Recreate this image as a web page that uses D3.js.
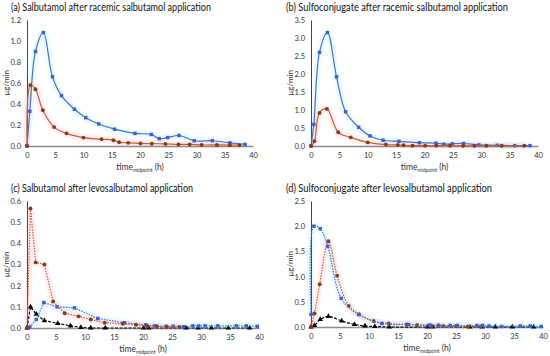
<!DOCTYPE html>
<html>
<head>
<meta charset="utf-8">
<script src="https://cdn.jsdelivr.net/npm/d3@7"></script>
<style>
body { margin: 0; background: #fff; }
text { font-family: Lato, "Open Sans", sans-serif; fill: #333; }
</style>
</head>
<body>
<svg id="chart" width="550" height="356"></svg>
<script>
// (a) salbutamol after racemic application
var a_blue_t = [0, 0.5, 1.5, 2.9, 4.5, 6.1, 8.4, 10.4, 12.7, 15.5, 19.1, 22, 23.4, 24.9, 26.9, 29.6, 32.8, 35.9, 38.6];
var a_blue_v = [0, 0.33, 0.9, 1.08, 0.66, 0.48, 0.35, 0.27, 0.21, 0.16, 0.12, 0.11, 0.07, 0.08, 0.1, 0.05, 0.05, 0.03, 0.015];
var a_red_t = [0, 0.6, 1.5, 2.8, 4.8, 7, 10, 13.2, 15.3, 16.3, 17.9, 20.1, 22.1, 24.5, 26.8, 28.8, 30.9, 33.6, 35.9, 37.6];
var a_red_v = [0, 0.58, 0.54, 0.34, 0.18, 0.12, 0.08, 0.065, 0.055, 0.035, 0.03, 0.025, 0.022, 0.02, 0.015, 0.015, 0.01, 0.01, 0.008, 0.008];

// (b) sulfoconjugate after racemic application
var b_blue_t = [0, 0.5, 1.5, 2.9, 4.5, 6.1, 8.4, 10.4, 12.7, 15.5, 19.1, 22, 23.4, 24.9, 26.9, 29.6, 32.8, 35.9, 38.6];
var b_blue_v = [0, 0.6, 2.6, 3.15, 1.92, 0.95, 0.52, 0.28, 0.16, 0.13, 0.09, 0.08, 0.05, 0.06, 0.07, 0.03, 0.02, 0.01, 0.01];
var b_red_t = [0, 0.6, 1.5, 2.8, 4.8, 7, 10, 13.2, 15.3, 16.3, 17.9, 20.1, 22.1, 24.5, 26.8, 28.8, 30.9, 33.6, 37.6];
var b_red_v = [0, 0.13, 0.92, 1.03, 0.38, 0.24, 0.1, 0.04, 0.03, 0.02, 0.01, 0.01, 0.01, 0.01, 0.005, 0.005, 0.005, 0.005, 0.005];

// (c) salbutamol after levosalbutamol application
var c_red_t = [0, 0.6, 1.5, 3, 4.5, 6.5, 8.9, 11, 13.4, 16.5, 18.8, 20.7, 22.4, 24.1, 26.3];
var c_red_v = [0, 0.565, 0.31, 0.3, 0.125, 0.07, 0.055, 0.04, 0.025, 0.02, 0.015, 0.01, 0.008, 0.005, 0.005];
var c_blue_t = [0, 0.5, 1.6, 2.9, 5.2, 8.2, 12.2, 16.8, 20.5, 22, 24, 25.2, 27, 28.6, 29.6, 30.7, 32.9, 36.1, 37.8, 39.7];
var c_blue_v = [0, 0.005, 0.04, 0.12, 0.1, 0.095, 0.045, 0.025, 0.015, 0.01, 0.008, 0.008, 0.006, 0.01, 0.01, 0.01, 0.01, 0.01, 0.01, 0.008];
var c_blk_t = [0, 0.6, 1.6, 3, 5.3, 7.5, 9.3, 11, 13.5, 20.1, 21, 27.4, 29.5, 31.8, 34.7, 38.4];
var c_blk_v = [0, 0.1, 0.065, 0.035, 0.022, 0.01, 0.003, 0, 0, 0, 0, 0, 0, 0, 0, 0];

// (d) sulfoconjugate after levosalbutamol application
var d_blue_t = [0, 0.5, 1.6, 2.9, 5.2, 8.2, 12.2, 16.8, 20.5, 22, 24, 25.2, 28.6, 29.6, 30.7, 32.9, 36.1, 37.8, 39.7];
var d_blue_v = [0.25, 2.0, 1.95, 1.6, 0.57, 0.25, 0.07, 0.05, 0.04, 0.03, 0.03, 0.03, 0.03, 0.03, 0.02, 0.01, 0.02, 0.02, 0.01];
var d_red_t = [0, 0.6, 1.5, 3, 4.5, 6.5, 8.3, 10.8, 13.4, 16.5, 18.3, 20.7, 22, 22.8, 25, 27, 29.3];
var d_red_v = [0, 0.27, 0.85, 1.7, 1.02, 0.42, 0.25, 0.12, 0.07, 0.05, 0.04, 0.02, 0.03, 0.02, 0.02, 0.01, 0.01];
var d_blk_t = [0, 0.6, 1.6, 3, 5.3, 7.5, 9.3, 11, 13.5, 20.1, 21, 27.4, 29.5, 31.8, 34.7, 38.4];
var d_blk_v = [0, 0.03, 0.15, 0.21, 0.12, 0.05, 0.02, 0.01, 0, 0, 0, 0, 0, 0, 0, 0];

var x_ticks = [0, 5, 10, 15, 20, 25, 30, 35, 40];

var svg = d3.select("#chart");

function zip(t, v) { return t.map(function(d, i) { return [d, v[i]]; }); }

function panel(opt) {
	var g = svg.append("g");
	var x = d3.scaleLinear().domain([0, 40]).range([opt.x0, opt.x1]);
	var y = d3.scaleLinear().domain([0, opt.ymax]).range([opt.y0, opt.y1]);

	g.append("text")
		.attr("x", opt.tx).attr("y", opt.ty)
		.attr("textLength", opt.tw)
		.attr("lengthAdjust", "spacingAndGlyphs")
		.style("font-size", "10.6px")
		.style("fill", "#111")
		.text(opt.title);

	// y axis
	var ya = g.append("g")
		.attr("transform", "translate(" + opt.x0 + ",0)")
		.call(d3.axisLeft(y).tickValues(opt.yticks).tickSize(0).tickPadding(6)
			.tickFormat(d3.format(".1f")));
	ya.select(".domain").attr("stroke", "#444");
	ya.selectAll("text").style("font-size", "7.5px").style("font-family", "Lato, sans-serif").attr("fill", "#333");

	var xa = g.append("g")
		.attr("transform", "translate(0," + opt.y0 + ")")
		.call(d3.axisBottom(x).tickValues(x_ticks).tickSize(0).tickPadding(7));
	xa.select(".domain").attr("stroke", "#8c8c8c").attr("stroke-width", 1.6);
	xa.selectAll("text").style("font-size", "7.5px").style("font-family", "Lato, sans-serif").attr("fill", "#333");

	// axis titles
	var xl = g.append("text")
		.attr("x", (opt.x0 + opt.x1) / 2).attr("y", opt.y0 + 24)
		.attr("text-anchor", "middle")
		.style("font-size", "8.5px");
	xl.append("tspan").text("time");
	xl.append("tspan").attr("dy", 2).style("font-size", "5px").text("midpoint");
	xl.append("tspan").attr("dy", -2).text(" (h)");

	g.append("text")
		.attr("transform", "translate(" + (opt.x0 - 18) + "," + ((opt.y0 + opt.y1) / 2) + ") rotate(-90)")
		.attr("text-anchor", "middle")
		.style("font-size", "8px")
		.text("µg/min");

	opt.series.forEach(function(s) {
		var data = zip(s.t, s.v);
		var line = d3.line()
			.x(function(d) { return x(d[0]); })
			.y(function(d) { return y(d[1]); })
			.curve(s.smooth ? d3.curveCatmullRom.alpha(0.5) : d3.curveLinear);
		// faint halo
		g.append("path").datum(data)
			.attr("fill", "none")
			.attr("stroke", s.halo)
			.attr("stroke-width", 7)
			.attr("stroke-opacity", 0.08)
			.attr("d", line);
		g.append("path").datum(data)
			.attr("fill", "none")
			.attr("stroke", s.line)
			.attr("stroke-width", 1.2)
			.attr("stroke-dasharray", s.dash || null)
			.attr("d", line);
		var sym = d3.symbol().type(s.shape).size(s.shape === d3.symbolTriangle ? 13 : 12);
		g.selectAll(null).data(data).enter().append("path")
			.attr("transform", function(d) { return "translate(" + x(d[0]) + "," + y(d[1]) + ")"; })
			.attr("d", sym)
			.attr("fill", s.mark);
	});
}

var blueLine = "#4472c4", blueMark = "#3b5fd6";
var redLine = "#c4622d", redMark = "#8a3a12";

panel({
	title: "(a) Salbutamol after racemic salbutamol application",
	tx: 11, ty: 11, tw: 200, x0: 27, x1: 253, y0: 146, y1: 20, ymax: 1.2,
	yticks: [0, 0.2, 0.4, 0.6, 0.8, 1.0, 1.2],
	series: [
		{ t: a_blue_t, v: a_blue_v, line: blueLine, mark: blueMark, halo: "#00c8ff", shape: d3.symbolSquare, smooth: true },
		{ t: a_red_t, v: a_red_v, line: redLine, mark: redMark, halo: "#ff3070", shape: d3.symbolCircle, smooth: true }
	]
});

panel({
	title: "(b) Sulfoconjugate after racemic salbutamol application",
	tx: 286, ty: 11, tw: 222, x0: 311, x1: 538, y0: 146, y1: 20, ymax: 3.5,
	yticks: [0, 0.5, 1.0, 1.5, 2.0, 2.5, 3.0, 3.5],
	series: [
		{ t: b_blue_t, v: b_blue_v, line: blueLine, mark: blueMark, halo: "#00c8ff", shape: d3.symbolSquare, smooth: true },
		{ t: b_red_t, v: b_red_v, line: redLine, mark: redMark, halo: "#ff3070", shape: d3.symbolCircle, smooth: true }
	]
});

panel({
	title: "(c) Salbutamol after levosalbutamol application",
	tx: 11, ty: 192, tw: 182, x0: 27, x1: 259, y0: 328, y1: 201, ymax: 0.6,
	yticks: [0, 0.1, 0.2, 0.3, 0.4, 0.5, 0.6],
	series: [
		{ t: c_blk_t, v: c_blk_v, line: "#000", mark: "#000", halo: "#ffffff", shape: d3.symbolTriangle, dash: "3,1.5" },
		{ t: c_blue_t, v: c_blue_v, line: blueLine, mark: blueMark, halo: "#00c8ff", shape: d3.symbolSquare, dash: "1.5,1.2" },
		{ t: c_red_t, v: c_red_v, line: redLine, mark: redMark, halo: "#ff3070", shape: d3.symbolCircle, dash: "1.5,1.2" }
	]
});

panel({
	title: "(d) Sulfoconjugate after levosalbutamol application",
	tx: 286, ty: 192, tw: 206, x0: 311, x1: 543, y0: 327, y1: 201, ymax: 2.5,
	yticks: [0, 0.5, 1.0, 1.5, 2.0, 2.5],
	series: [
		{ t: d_blk_t, v: d_blk_v, line: "#000", mark: "#000", halo: "#ffffff", shape: d3.symbolTriangle, dash: "3,1.5", smooth: true },
		{ t: d_red_t, v: d_red_v, line: redLine, mark: redMark, halo: "#ff3070", shape: d3.symbolCircle, dash: "1.5,1.2", smooth: true },
		{ t: d_blue_t, v: d_blue_v, line: blueLine, mark: blueMark, halo: "#00c8ff", shape: d3.symbolSquare, dash: "1.5,1.2", smooth: true }
	]
});
</script>
</body>
</html>
